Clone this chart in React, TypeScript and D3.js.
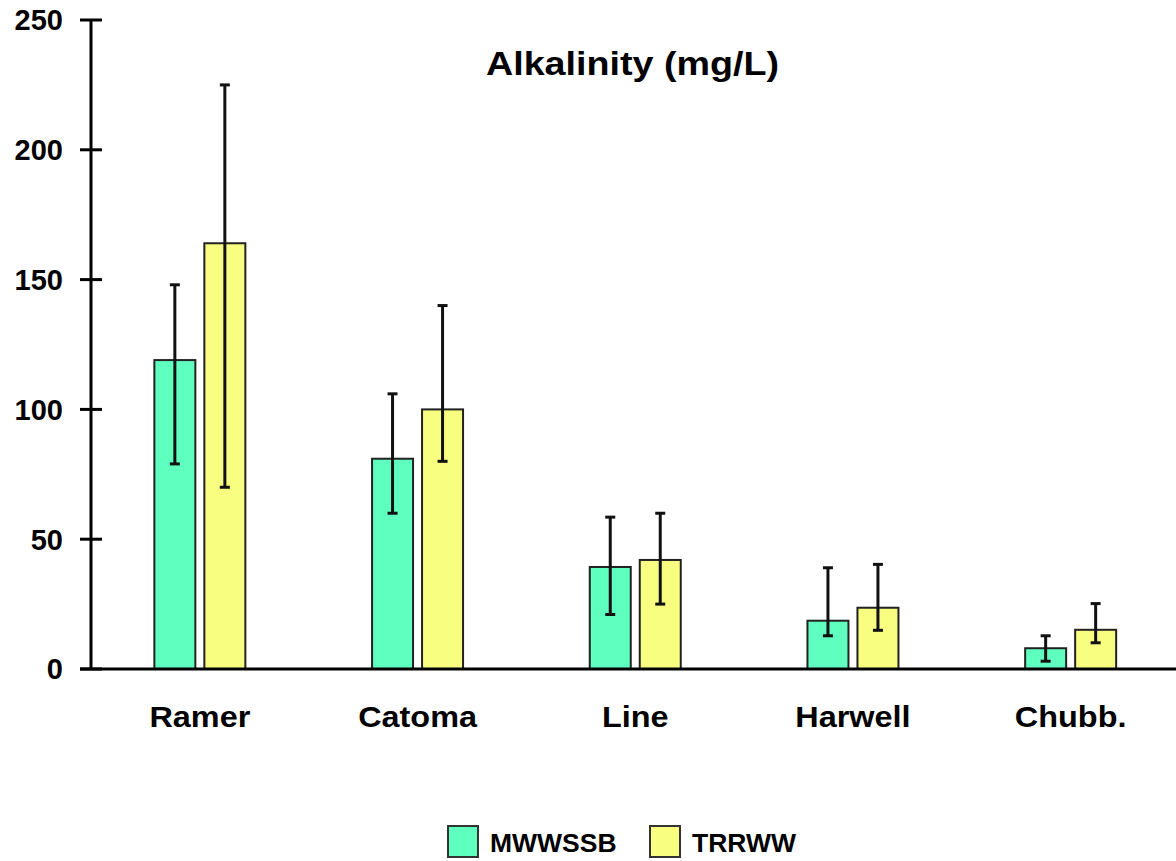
import React from 'react';
import * as d3 from 'd3';

const categories = ['Ramer', 'Catoma', 'Line', 'Harwell', 'Chubb.'];
const seriesNames = ['MWWSSB', 'TRRWW'];
const mwwssbMean = [119, 81, 39.3, 18.6, 8];
const mwwssbLow = [79, 60, 21, 12.8, 3];
const mwwssbHigh = [148, 106, 58.5, 39, 12.8];
const trrwwMean = [164, 100, 42, 23.6, 15.1];
const trrwwLow = [70, 80, 25, 14.9, 10.1];
const trrwwHigh = [225, 140, 60, 40.3, 25.2];
const yTicks = [0, 50, 100, 150, 200, 250];
const colors = ['#5fffc0', '#f7fe80'];

const W = 1176;
const H = 861;
const FONT = 'Arial, "Liberation Sans", sans-serif';

export default function App() {
  const x = d3.scaleBand().domain(categories).range([91, 91 + 5 * 217.7]).padding(0);
  const y = d3.scaleLinear().domain([0, 250]).range([669, 20]);
  const barW = 41;
  const gap = 9;

  const series = [
    { name: seriesNames[0], mean: mwwssbMean, low: mwwssbLow, high: mwwssbHigh, color: colors[0] },
    { name: seriesNames[1], mean: trrwwMean, low: trrwwLow, high: trrwwHigh, color: colors[1] },
  ];

  return (
    <svg width={W} height={H} style={{ position: 'absolute', left: 0, top: 0, background: '#fff' }} fontFamily={FONT}>
      {/* title */}
      <text x={632.5} y={75} textAnchor="middle" fontSize={33} fontWeight="bold"
        textLength={293} lengthAdjust="spacingAndGlyphs">Alkalinity (mg/L)</text>

      {/* bars */}
      {series.map((s, si) => (
        <g key={s.name}>
          {categories.map((c, i) => {
            const cx = x(c)! + x.bandwidth() / 2;
            const left = si === 0 ? cx - gap / 2 - barW : cx + gap / 2;
            return (
              <rect key={c} x={left} y={y(s.mean[i])} width={barW} height={y(0) - y(s.mean[i])}
                fill={s.color} stroke="#222" strokeWidth={2} />
            );
          })}
        </g>
      ))}

      {/* error bars */}
      {series.map((s, si) => (
        <g key={s.name + '-err'} stroke="#111" strokeWidth={3}>
          {categories.map((c, i) => {
            const cx = x(c)! + x.bandwidth() / 2;
            const mx = si === 0 ? cx - gap / 2 - barW / 2 : cx + gap / 2 + barW / 2;
            return (
              <g key={c}>
                <line x1={mx} x2={mx} y1={y(s.low[i])} y2={y(s.high[i])} />
                <line x1={mx - 5} x2={mx + 5} y1={y(s.low[i])} y2={y(s.low[i])} />
                <line x1={mx - 5} x2={mx + 5} y1={y(s.high[i])} y2={y(s.high[i])} />
              </g>
            );
          })}
        </g>
      ))}

      {/* axes */}
      <line x1={91} x2={91} y1={y(250)} y2={y(0)} stroke="#000" strokeWidth={3} />
      <line x1={80} x2={W} y1={y(0)} y2={y(0)} stroke="#000" strokeWidth={3} />
      {yTicks.map(t => (
        <g key={t}>
          <line x1={80} x2={102} y1={y(t)} y2={y(t)} stroke="#000" strokeWidth={3} />
          <text x={63} y={y(t)} dy="0.36em" textAnchor="end" fontSize={29} fontWeight="bold">{t}</text>
        </g>
      ))}
      {categories.map(c => (
        <g key={c} transform={`translate(${x(c)! + x.bandwidth() / 2},727) scale(1.08,1)`}>
          <text x={0} y={0} textAnchor="middle" fontSize={30} fontWeight="bold">{c}</text>
        </g>
      ))}

      {/* legend */}
      {series.map((s, si) => {
        const lx = si === 0 ? 448 : 650;
        return (
          <g key={s.name + '-leg'}>
            <rect x={lx} y={826} width={30} height={31} fill={s.color} stroke="#333" strokeWidth={2} />
            <text x={lx + 42} y={852} fontSize={26.5} fontWeight="bold">{s.name}</text>
          </g>
        );
      })}
    </svg>
  );
}
